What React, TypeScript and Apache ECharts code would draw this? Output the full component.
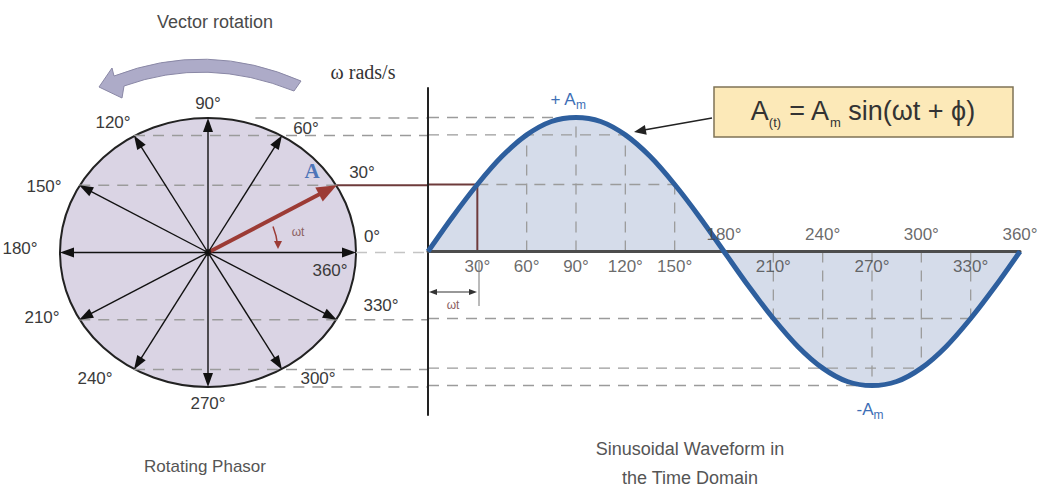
import React, { useEffect, useRef } from "react";
import * as echarts from "echarts";

// ---------------- data ----------------
const waveAngles = [0, 15, 30, 45, 60, 75, 90, 105, 120, 135, 150, 165, 180, 195, 210, 225, 240, 255, 270, 285, 300, 315, 330, 345, 360];
const waveValues = [0, 0.26, 0.5, 0.71, 0.87, 0.97, 1, 0.97, 0.87, 0.71, 0.5, 0.26, 0, -0.26, -0.5, -0.71, -0.87, -0.97, -1, -0.97, -0.87, -0.71, -0.5, -0.26, 0];
const axisLabelsBelow = [30, 60, 90, 120, 150, 210, 270, 330];
const axisLabelsAbove = [180, 240, 300, 360];

const phasorAngles = [0, 30, 60, 90, 120, 150, 180, 210, 240, 270, 300, 330];
const phasorX = [1, 0.87, 0.5, 0, -0.5, -0.87, -1, -0.87, -0.5, 0, 0.5, 0.87];
const phasorY = [0, 0.5, 0.87, 1, 0.87, 0.5, 0, -0.5, -0.87, -1, -0.87, -0.5];
const highlightedAngle = 30;
const phasorTickLabels = ["0°", "30°", "60°", "90°", "120°", "150°", "180°", "210°", "240°", "270°", "300°", "330°", "360°"];

const guideLevels = [1, 0.87, 0.5, 0, -0.5, -0.87, -1];
const guidePhasorStart = [0.32, -0.5, -0.87, 1, -0.87, -0.5, 0.32];
const guideWaveStart = [0, 0, 30, 0, 0, 0, 0];
const guideWaveEnd = [90, 120, 150, 0, 330, 300, 270];
const dropAngles = [60, 90, 120, 150, 210, 240, 270, 300, 330];
const dropValues = [0.87, 1, 0.87, 0.5, -0.5, -0.87, -1, -0.87, -0.5];

// ---------------- layout ----------------
const W = 1039;
const H = 491;
const WAVE_GRID = { left: 428, right: 19, top: 88, bottom: 76 };
const PH_GRID = { left: 60, top: 118, width: 296, height: 269 };
const AXIS_IN_PH = (WAVE_GRID.left - (PH_GRID.left + PH_GRID.width / 2)) / (PH_GRID.width / 2);
const phasorLabelPos = [
  [372, 236], [362, 172], [306, 128], [208, 103], [113, 122], [44, 186], [20, 248],
  [42, 317], [95, 378], [208, 403], [318, 378], [381, 305], [330, 270],
];

const FONT = "Liberation Sans";
const DASH = "#9b9b9b";
const MAROON = "#6e3b3b";
const RED = "#9c3b35";
const BLUE = "#2e5f9e";

let registered = false;
function registerShapes() {
  if (registered) return;
  registered = true;
  const d =
    "M 301 81 L 294 91 Q 207 56 124 86 L 122 98 L 99 87 L 112 68 L 114 76 Q 207 40 301 81 Z";
  echarts.graphic.registerShape("rotArrow", echarts.graphic.extendPath(d, {}) as any);
}

function text(x: number, y: number, t: string, size: number, fill: string, extra: any = {}) {
  return {
    type: "text",
    x,
    y,
    z: 20,
    style: {
      text: t,
      fontSize: size,
      fontFamily: FONT,
      fill,
      align: "center",
      verticalAlign: "middle",
      textAlign: "center",
      textVerticalAlign: "middle",
      ...extra,
    },
  };
}

export default function App() {
  const ref = useRef<HTMLDivElement>(null);

  useEffect(() => {
    if (!ref.current) return;
    registerShapes();
    const chart = echarts.init(ref.current, null, { renderer: "svg" });

    const waveData = waveAngles.map((a, i) => [a, waveValues[i]]);

    const waveGuideRows: any[] = [];
    guideLevels.forEach((lv, i) => {
      if (guideWaveEnd[i] > guideWaveStart[i]) waveGuideRows.push([guideWaveStart[i], lv, guideWaveEnd[i], 0]);
    });
    const hi = phasorAngles.indexOf(highlightedAngle);
    waveGuideRows.push([0, phasorY[hi], highlightedAngle, 1]);

    const phGuideRows: any[] = [];
    guideLevels.forEach((lv, i) => {
      if (lv === phasorY[hi]) {
        phGuideRows.push([guidePhasorStart[i], lv, phasorX[hi], 0]);
        phGuideRows.push([phasorX[hi], lv, AXIS_IN_PH, 1]);
      } else {
        phGuideRows.push([guidePhasorStart[i], lv, AXIS_IN_PH, lv === 0 ? 2 : 0]);
      }
    });

    const dropRows = dropAngles.map((a, i) => [a, dropValues[i]]);

    const sub = (size: number, pad: number, color: string) => ({
      fontSize: size,
      fontFamily: FONT,
      fill: color,
      color,
      padding: [pad, 0, 0, 0],
    });

    const graphics: any[] = [
      { type: "rotArrow", x: 0, y: 0, z: 20, style: { fill: "#adabc8", stroke: "#8a88a6", lineWidth: 1 } },
      text(215, 22, "Vector rotation", 18, "#4a4a4a"),
      text(363, 72, "ω rads/s", 20, "#333", { fontFamily: "Liberation Serif" }),
      text(312, 171, "A", 21, "#4d74b8", { fontFamily: "Liberation Serif", fontWeight: "bold" }),
      text(205, 466, "Rotating Phasor", 17, "#555"),
      text(690, 449, "Sinusoidal Waveform in", 18, "#555"),
      text(690, 478, "the Time Domain", 18, "#555"),
      // omega t arc on phasor
      {
        type: "arc",
        z: 20,
        shape: { cx: PH_GRID.left + PH_GRID.width / 2, cy: PH_GRID.top + PH_GRID.height / 2, r: 70, startAngle: -0.38, endAngle: -0.1 },
        style: { stroke: RED, lineWidth: 1.5, fill: "none" },
      },
      { type: "polygon", z: 20, shape: { points: [[274, 241], [282, 241], [278, 249]] }, style: { fill: RED } },
      text(298, 232, "ωt", 12, "#8c6060"),
      // formula box
      {
        type: "rect",
        z: 20,
        shape: { x: 714, y: 87, width: 299, height: 50 },
        style: { fill: "#fce9b8", stroke: "#7f7356", lineWidth: 1.5 },
      },
      {
        type: "text",
        x: 863,
        y: 111,
        z: 21,
        style: {
          text: "{m|A}{s|(t)}{m| = A}{s|m}{m| sin(ωt + ϕ)}",
          align: "center",
          verticalAlign: "middle",
          textAlign: "center",
          textVerticalAlign: "middle",
          rich: {
            m: { fontSize: 27, fontFamily: FONT, fill: "#333", color: "#333" },
            s: sub(13, 22, "#333"),
          },
        },
      },
      { type: "line", z: 20, shape: { x1: 712, y1: 118, x2: 644, y2: 130 }, style: { stroke: "#222", lineWidth: 1.5 } },
      { type: "polygon", z: 20, shape: { points: [[634, 132], [646.7, 134.8], [644.9, 125]] }, style: { fill: "#222" } },
      // +Am / -Am
      {
        type: "text",
        x: 568,
        y: 99,
        z: 21,
        style: {
          text: "{m|+ A}{s|m}",
          align: "center",
          verticalAlign: "middle",
          textAlign: "center",
          textVerticalAlign: "middle",
          rich: {
            m: { fontSize: 17, fontFamily: FONT, fill: "#3d6fb6", color: "#3d6fb6" },
            s: sub(12, 12, "#3d6fb6"),
          },
        },
      },
      {
        type: "text",
        x: 870,
        y: 409,
        z: 21,
        style: {
          text: "{m|-A}{s|m}",
          align: "center",
          verticalAlign: "middle",
          textAlign: "center",
          textVerticalAlign: "middle",
          rich: {
            m: { fontSize: 17, fontFamily: FONT, fill: "#3d6fb6", color: "#3d6fb6" },
            s: sub(12, 12, "#3d6fb6"),
          },
        },
      },
      // omega t span below axis
      { type: "line", z: 20, shape: { x1: 479, y1: 262, x2: 479, y2: 306 }, style: { stroke: "#777", lineWidth: 1 } },
      { type: "line", z: 20, shape: { x1: 433, y1: 292, x2: 473, y2: 292 }, style: { stroke: "#333", lineWidth: 1.2 } },
      { type: "polygon", z: 20, shape: { points: [[429, 292], [437, 289], [437, 295]] }, style: { fill: "#333" } },
      { type: "polygon", z: 20, shape: { points: [[477, 292], [469, 289], [469, 295]] }, style: { fill: "#333" } },
      text(453, 305, "ωt", 12, "#8c6060"),
    ];
    phasorTickLabels.forEach((t, i) => {
      graphics.push(text(phasorLabelPos[i][0], phasorLabelPos[i][1], t, 17, "#3a3a3a"));
    });

    const tickLabelSeries = (values: number[], pos: "top" | "bottom", dist: number) => ({
      type: "scatter",
      xAxisIndex: 0,
      yAxisIndex: 0,
      z: 7,
      data: values.map((a) => [a, 0]),
      symbol: "circle",
      symbolSize: 1,
      itemStyle: { color: "rgba(0,0,0,0)" },
      silent: true,
      label: {
        show: true,
        position: pos,
        distance: dist,
        color: "#444",
        fontSize: 17,
        fontFamily: FONT,
        formatter: (p: any) => p.value[0] + "°",
      },
    });

    const option: any = {
      animation: false,
      backgroundColor: "#ffffff",
      textStyle: { fontFamily: FONT },
      grid: [
        { left: WAVE_GRID.left, right: WAVE_GRID.right, top: WAVE_GRID.top, bottom: WAVE_GRID.bottom, containLabel: false },
        { left: PH_GRID.left, top: PH_GRID.top, width: PH_GRID.width, height: PH_GRID.height, containLabel: false },
      ],
      xAxis: [
        {
          type: "value",
          gridIndex: 0,
          min: 0,
          max: 360,
          interval: 30,
          z: 5,
          axisLine: { onZero: true, lineStyle: { color: "#4d4d4d", width: 3 } },
          axisTick: { show: false },
          splitLine: { show: false },
          axisLabel: { show: false },
        },
        { type: "value", gridIndex: 1, min: -1, max: 1, show: false },
      ],
      yAxis: [
        {
          type: "value",
          gridIndex: 0,
          min: -1.22,
          max: 1.22,
          z: 5,
          axisLine: { show: true, onZero: false, lineStyle: { color: "#222", width: 2 } },
          axisTick: { show: false },
          axisLabel: { show: false },
          splitLine: { show: false },
        },
        { type: "value", gridIndex: 1, min: -1, max: 1, show: false },
      ],
      graphic: { elements: graphics },
      series: [
        {
          type: "line",
          name: "area",
          xAxisIndex: 0,
          yAxisIndex: 0,
          data: waveData,
          smooth: 0.3,
          symbol: "none",
          lineStyle: { width: 0 },
          areaStyle: { color: "#d5dcea", opacity: 1 },
          z: 1,
        },
        {
          type: "custom",
          name: "waveGuides",
          xAxisIndex: 0,
          yAxisIndex: 0,
          z: 3,
          data: waveGuideRows,
          renderItem: (_p: any, api: any) => {
            const p1 = api.coord([api.value(0), api.value(1)]);
            const p2 = api.coord([api.value(2), api.value(1)]);
            const solid = api.value(3) === 1;
            return {
              type: "line",
              shape: { x1: p1[0], y1: p1[1], x2: p2[0], y2: p2[1] },
              style: solid
                ? { stroke: MAROON, lineWidth: 2 }
                : { stroke: DASH, lineWidth: 1.3, lineDash: [11, 8] },
            };
          },
        },
        {
          type: "custom",
          name: "drops",
          xAxisIndex: 0,
          yAxisIndex: 0,
          z: 3,
          data: dropRows,
          renderItem: (_p: any, api: any) => {
            const p1 = api.coord([api.value(0), 0]);
            const p2 = api.coord([api.value(0), api.value(1)]);
            return {
              type: "line",
              shape: { x1: p1[0], y1: p1[1], x2: p2[0], y2: p2[1] },
              style: { stroke: DASH, lineWidth: 1.3, lineDash: [11, 8] },
            };
          },
        },
        {
          type: "custom",
          name: "phaseDrop",
          xAxisIndex: 0,
          yAxisIndex: 0,
          z: 3,
          data: [[highlightedAngle, phasorY[hi]]],
          renderItem: (_p: any, api: any) => {
            const p1 = api.coord([api.value(0), 0]);
            const p2 = api.coord([api.value(0), api.value(1)]);
            return {
              type: "line",
              shape: { x1: p1[0], y1: p1[1], x2: p2[0], y2: p2[1] },
              style: { stroke: MAROON, lineWidth: 2 },
            };
          },
        },
        {
          type: "line",
          name: "wave",
          xAxisIndex: 0,
          yAxisIndex: 0,
          data: waveData,
          smooth: 0.3,
          symbol: "none",
          lineStyle: { color: BLUE, width: 5 },
          z: 6,
        },
        tickLabelSeries(axisLabelsBelow, "bottom", 6),
        tickLabelSeries(axisLabelsAbove, "top", 8),
        {
          type: "custom",
          name: "phasorCircle",
          xAxisIndex: 1,
          yAxisIndex: 1,
          z: 1,
          data: [[0, 0]],
          renderItem: (_p: any, api: any) => {
            const c = api.coord([0, 0]);
            const e = api.coord([1, 1]);
            const rx = e[0] - c[0];
            const ry = c[1] - e[1];
            const d = `M ${c[0] - rx} ${c[1]} A ${rx} ${ry} 0 1 0 ${c[0] + rx} ${c[1]} A ${rx} ${ry} 0 1 0 ${c[0] - rx} ${c[1]} Z`;
            return {
              type: "path",
              shape: { pathData: d },
              style: { fill: "#dad4e4", stroke: "#222", lineWidth: 2 },
            };
          },
        },
        {
          type: "custom",
          name: "phasorGuides",
          xAxisIndex: 1,
          yAxisIndex: 1,
          z: 2,
          data: phGuideRows,
          renderItem: (_p: any, api: any) => {
            const p1 = api.coord([api.value(0), api.value(1)]);
            const p2 = api.coord([api.value(2), api.value(1)]);
            const kind = api.value(3);
            return {
              type: "line",
              shape: { x1: p1[0], y1: p1[1], x2: p2[0], y2: p2[1] },
              style:
                kind === 1
                  ? { stroke: MAROON, lineWidth: 2 }
                  : { stroke: kind === 2 ? "#c4c4c4" : DASH, lineWidth: 1.3, lineDash: [11, 8] },
            };
          },
        },
        {
          type: "custom",
          name: "phasors",
          xAxisIndex: 1,
          yAxisIndex: 1,
          z: 3,
          data: phasorAngles.map((a, i) => [phasorX[i], phasorY[i], a === highlightedAngle ? 1 : 0]),
          renderItem: (_p: any, api: any) => {
            const tip = api.coord([api.value(0), api.value(1)]);
            const c = api.coord([0, 0]);
            const red = api.value(2) === 1;
            const dx = tip[0] - c[0];
            const dy = tip[1] - c[1];
            const len = Math.hypot(dx, dy);
            const ux = dx / len;
            const uy = dy / len;
            const hl = red ? 20 : 14;
            const hw = red ? 8 : 5;
            const bx = tip[0] - ux * hl;
            const by = tip[1] - uy * hl;
            const color = red ? RED : "#111";
            return {
              type: "group",
              children: [
                {
                  type: "line",
                  shape: { x1: c[0], y1: c[1], x2: bx + ux * 2, y2: by + uy * 2 },
                  style: { stroke: color, lineWidth: red ? 4 : 1.4 },
                },
                {
                  type: "polygon",
                  shape: { points: [[tip[0], tip[1]], [bx - uy * hw, by + ux * hw], [bx + uy * hw, by - ux * hw]] },
                  style: { fill: color },
                },
              ],
            };
          },
        },
        {
          type: "scatter",
          name: "center",
          xAxisIndex: 1,
          yAxisIndex: 1,
          z: 4,
          data: [[0, 0]],
          symbolSize: 7,
          itemStyle: { color: "#111" },
        },
      ],
    };

    chart.setOption(option);
    return () => chart.dispose();
  }, []);

  return (
    <div
      ref={ref}
      style={{ position: "absolute", left: 0, top: 0, width: W, height: H, background: "#fff" }}
    />
  );
}
